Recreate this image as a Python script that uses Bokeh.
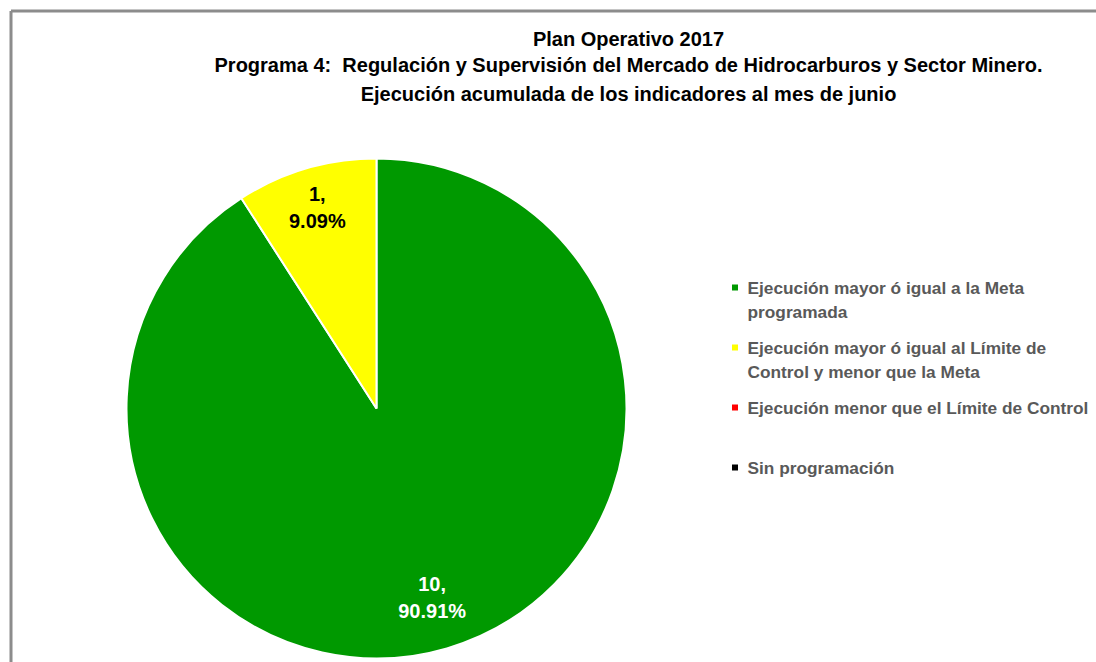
import numpy as np
from bokeh.plotting import figure
from bokeh.models import Range1d, ColumnDataSource
from bokeh.core.properties import value
from bokeh.embed import file_html
from bokeh.resources import INLINE

# ---- data ----
categories = [
    "Ejecución mayor ó igual a la Meta programada",
    "Ejecución mayor ó igual al Límite de Control y menor que la Meta",
    "Ejecución menor que el Límite de Control",
    "Sin programación",
]
legend_lines = [
    ["Ejecución mayor ó igual a la Meta", "programada"],
    ["Ejecución mayor ó igual al Límite de", "Control y menor que la Meta"],
    ["Ejecución menor que el Límite de Control"],
    ["Sin programación"],
]
values = [10, 1, 0, 0]
colors = ["#009900", "#FFFF00", "#FF0000", "#000000"]
label_colors = ["white", "black", "black", "white"]
title_lines = [
    "Plan Operativo 2017",
    "Programa 4:\u00a0 Regulación y Supervisión del Mercado de Hidrocarburos y Sector Minero.",
    "Ejecución acumulada de los indicadores al mes de junio",
]

W, H = 1096, 662
OX, OY = 0, 0  # observed page offset of the figure
FONT = value("Liberation Sans")

p = figure(width=W, height=H, x_range=Range1d(0, W), y_range=Range1d(0, H),
           output_backend="svg", toolbar_location=None,
           x_axis_location=None, y_axis_location=None, min_border=0)
p.grid.visible = False
p.outline_line_color = None
p.background_fill_color = "white"

def px(x):  # page x -> data x
    return x - OX
def py(y):  # page y -> data y
    return H - (y - OY)

# border (left + top, right/bottom cut off)
p.line([px(10.5), px(10.5)], [py(10.5), py(700)], line_color="#8c8c8c", line_width=3)
p.line([px(10.5), px(1200)], [py(10.5), py(10.5)], line_color="#8c8c8c", line_width=3)

# title
ty = [38, 64, 93]
p.text(x=[px(628)] * 3, y=[py(t) for t in ty], text=title_lines,
       text_font=FONT, text_font_style="bold", text_font_size="20px",
       text_align="center", text_baseline="middle", text_color="black")

# pie
cx, cy, R = px(376), py(408), 250
vals = np.array(values, dtype=float)
total = vals.sum()
frac = vals / total
cum = np.concatenate([[0], np.cumsum(frac)])
start = np.pi / 2 - 2 * np.pi * cum[:-1]
end = np.pi / 2 - 2 * np.pi * cum[1:]
mask = vals > 0
src = ColumnDataSource(dict(start=start[mask], end=end[mask], color=np.array(colors)[mask]))
p.wedge(x=cx, y=cy, radius=R, radius_units="screen", start_angle="start", end_angle="end",
        direction="clock", fill_color="color", line_color="white", line_width=2, source=src)

# data labels
label_r = [0.79, 0.84, 0.8, 0.8]
for i, v in enumerate(values):
    if v <= 0:
        continue
    mid = (start[i] + end[i]) / 2
    lx = cx + label_r[i] * R * np.cos(mid)
    ly = cy + label_r[i] * R * np.sin(mid)
    pct = f"{frac[i]*100:.2f}%"
    p.text(x=[lx, lx], y=[ly + 13.5, ly - 13.5], text=[f"{v},", pct],
           text_font=FONT, text_font_style="bold", text_font_size="20px",
           text_align="center", text_baseline="middle", text_color=label_colors[i])

# legend
leg_y = [287, 347, 407, 467]
for i, lines in enumerate(legend_lines):
    y0 = leg_y[i]
    p.scatter([px(734.5)], [py(y0)], marker="square", size=6, fill_color=colors[i], line_color=None)
    p.text(x=[px(747)] * len(lines), y=[py(y0 + 24 * k) for k in range(len(lines))], text=lines,
           text_font=FONT, text_font_style="bold", text_font_size="17.3px",
           text_align="left", text_baseline="middle", text_color="#595959")

open("out.html", "w").write(file_html(p, INLINE))
